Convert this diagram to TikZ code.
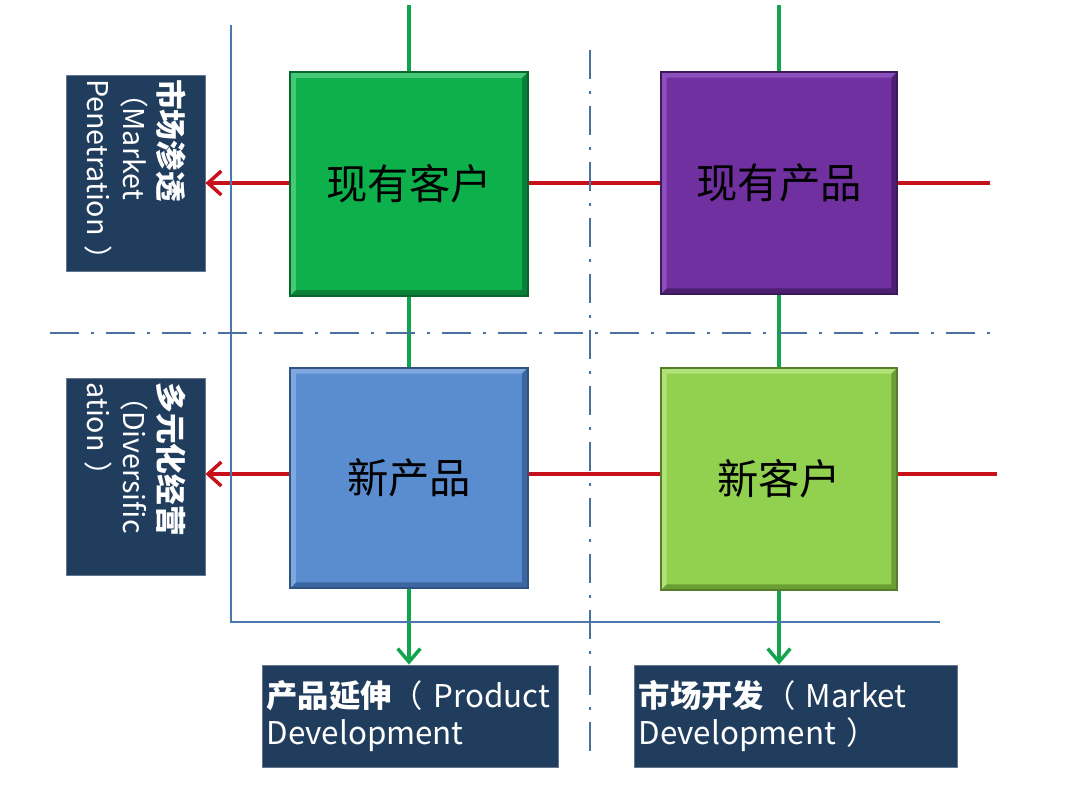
\documentclass[tikz,border=0pt]{standalone}
\usepackage{fontspec}
\setmainfont{Noto Sans CJK SC}
\usetikzlibrary{arrows.meta}
\definecolor{gfill}{HTML}{0DB04B}
\definecolor{glight}{HTML}{45C977}
\definecolor{gdark}{HTML}{0A7F37}
\definecolor{pfill}{HTML}{7030A0}
\definecolor{plight}{HTML}{8C50BC}
\definecolor{pdark}{HTML}{4C1F70}
\definecolor{bfill}{HTML}{5A8CD0}
\definecolor{blight}{HTML}{80A8E0}
\definecolor{bdark}{HTML}{3B66A0}
\definecolor{lfill}{HTML}{92D050}
\definecolor{llight}{HTML}{B0E278}
\definecolor{ldark}{HTML}{6A9E34}
\definecolor{navy}{HTML}{213D5E}
\definecolor{redl}{HTML}{C8101A}
\definecolor{grnl}{HTML}{12A54E}
\definecolor{axisc}{HTML}{4A78AE}
\definecolor{dashc}{HTML}{4A72A0}
\tikzset{
  navybox/.style={fill=navy, text=white, inner sep=0pt, draw=navy!70!white, line width=0.6pt},
  redline/.style={draw=redl, line width=3pt},
  grnline/.style={draw=grnl, line width=3pt},
  redarrow/.style={redline, -{Straight Barb[length=10pt,width=18pt,line width=2.6pt]}},
  grnarrow/.style={grnline, -{Straight Barb[length=10pt,width=17pt,line width=2.6pt]}},
  axisline/.style={draw=axisc, line width=2.2pt},
  dashdotline/.style={draw=dashc, line width=2pt, dash pattern=on 22pt off 9pt on 2pt off 9pt}
}
\begin{document}
\begin{tikzpicture}[x=0.75pt,y=-0.75pt]
\useasboundingbox (0,0) rectangle (1080,797);
\fill[white] (0,0) rectangle (1080,797);

% boxes (nodes) defined first for names, drawn later on top
\path
  (409,184) node[minimum width=177.75pt, minimum height=167.25pt] (gb) {}
  (779,183) node[minimum width=177pt, minimum height=166.5pt] (pb) {}
  (409,478) node[minimum width=177.75pt, minimum height=165pt] (bb) {}
  (779,479) node[minimum width=177pt, minimum height=166.5pt] (lb) {};

% labels
\node[navybox, minimum width=147pt, minimum height=104.25pt, text width=141pt, rotate=-90, align=left,
      inner xsep=3pt, font=\fontsize{21.5}{27}\selectfont] (lab1) at (135.5,173)
  {{\fontsize{23}{27}\selectfont\textbf{市场渗透}}\\（Market\\\mbox{Penetration ）}};
\node[navybox, minimum width=147.75pt, minimum height=104.25pt, text width=141pt, rotate=-90, align=left,
      inner xsep=3pt, font=\fontsize{21.5}{27}\selectfont] (lab2) at (135.5,476.5)
  {{\fontsize{23}{27}\selectfont\textbf{多元化经营}}\\（Diversific\\ation ）};
\node[navybox, minimum width=221.25pt, minimum height=76.5pt, text width=216pt, inner xsep=3pt, align=left,
      font=\fontsize{23.5}{28}\selectfont] (lab3) at (410.5,716)
  {\mbox{\textbf{产品延伸}（ Product}\\Development};
\node[navybox, minimum width=241.5pt, minimum height=76.5pt, text width=236pt, inner xsep=3pt, align=left,
      font=\fontsize{23.5}{28}\selectfont] (lab4) at (796,716)
  {\mbox{\textbf{市场开发}（ Market}\\Development ）};

\coordinate (gtop1) at (409,5);
\coordinate (gtop2) at (779,5);
\coordinate (rend1) at (990,183);
\coordinate (rend2) at (997,474);

% green verticals
\draw[grnline] (gtop1) -- (gb.north);
\draw[grnline] (gb.south) -- (bb.north);
\draw[grnarrow] (bb.south) -- (bb.south |- lab3.north);
\draw[grnline] (gtop2) -- (pb.north);
\draw[grnline] (pb.south) -- (lb.north);
\draw[grnarrow] (lb.south) -- (lb.south |- lab4.north);

% red horizontals
\draw[redarrow] (gb.west |- rend1) -- (lab1.north |- rend1);
\draw[redline] (gb.east |- rend1) -- (pb.west |- rend1);
\draw[redline] (pb.east |- rend1) -- (rend1);
\draw[redarrow] (bb.west |- rend2) -- (lab2.north |- rend2);
\draw[redline] (bb.east |- rend2) -- (lb.west |- rend2);
\draw[redline] (lb.east |- rend2) -- (rend2);

% axes
\draw[axisline] (231,25) -- (231,622) -- (940,622);
\draw[dashdotline] (50,333) -- (990,333);
\draw[dashdotline] (590,50) -- (590,760);

% bevelled boxes
\foreach \n/\f/\l/\d in {gb/gfill/glight/gdark, pb/pfill/plight/pdark, bb/bfill/blight/bdark, lb/lfill/llight/ldark}{
  \fill[\f] (\n.north west) rectangle (\n.south east);
  \fill[\l] (\n.north west) -- (\n.north east) -- ([shift={(-6,6)}]\n.north east) -- ([shift={(6,6)}]\n.north west) -- ([shift={(6,-6)}]\n.south west) -- (\n.south west) -- cycle;
  \fill[\d] (\n.south east) -- (\n.north east) -- ([shift={(-6,6)}]\n.north east) -- ([shift={(-6,-6)}]\n.south east) -- ([shift={(6,-6)}]\n.south west) -- (\n.south west) -- cycle;
  \fill[\f] ([shift={(6,6)}]\n.north west) rectangle ([shift={(-6,-6)}]\n.south east);
  \draw[\d!80!black, line width=1.2pt] (\n.north west) rectangle (\n.south east);
}
\node[font=\fontsize{31}{36}\selectfont] at (gb) {现有客户};
\node[font=\fontsize{31}{36}\selectfont] at (pb) {现有产品};
\node[font=\fontsize{31}{36}\selectfont] at (bb) {新产品};
\node[font=\fontsize{31}{36}\selectfont] at (lb) {新客户};
\end{tikzpicture}
\end{document}
